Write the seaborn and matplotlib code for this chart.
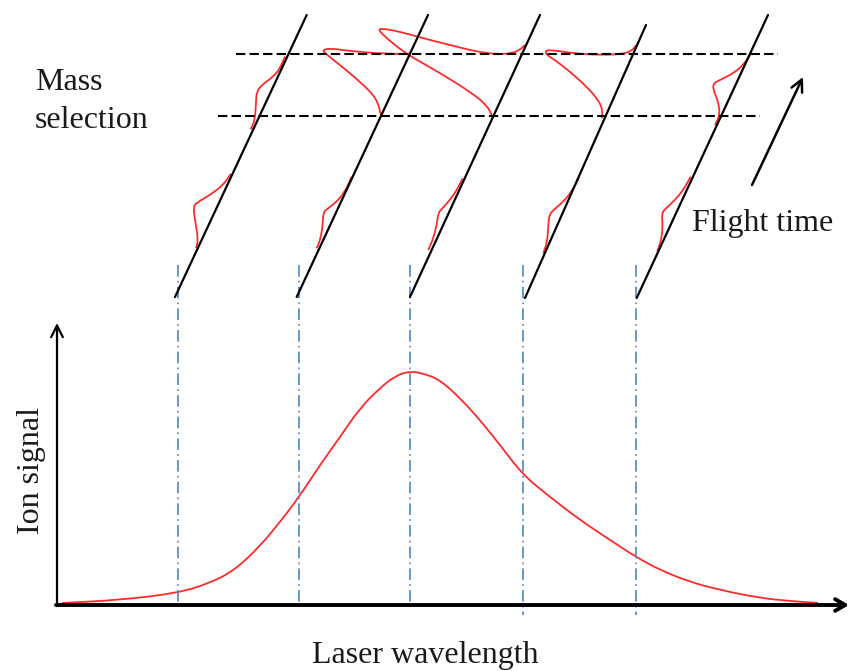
import matplotlib
matplotlib.use("Agg")
import matplotlib.pyplot as plt
from matplotlib.path import Path
from matplotlib.patches import PathPatch
import seaborn as sns

# ---- values (image pixel coordinates, y down) ----
# blue dash-dot markers at the laser wavelengths used
scan_x = [178, 299, 410, 523, 636]
scan_bottom = [605, 605, 605, 615, 615]

# ion signal vs laser wavelength
signal_x = [62, 120, 178, 210, 235, 261, 280, 299, 320, 340, 360, 380, 395, 410,
            425, 440, 460, 480, 500, 523, 550, 580, 610, 636, 660, 690, 720, 760,
            790, 818]
signal_y = [603, 600, 593, 583, 570, 545, 522, 497, 465, 437, 408, 388, 376, 371,
            374, 380, 398, 420, 445, 475, 497, 520, 540, 557, 570, 582, 590, 598,
            601, 603]

# flight-time axes (slanted lines): bottom end and top end
tof_x0 = [175, 296.7, 410, 525, 636.7]
tof_y0 = [297, 297, 297, 298, 298]
tof_x1 = [306.7, 428, 540, 646, 768]
tof_y1 = [15, 15, 15, 25, 15]

# parent ion peak on each trace
parent_x = [
    [196, 198.3, 195, 193.3, 196.7, 210, 223.3, 230.7],
    [316.7, 320.7, 322.7, 323.3, 326.7, 336.7, 345, 351.7],
    [428.3, 433.3, 436.7, 438.3, 441.7, 448.3, 456, 462.7],
    [543.3, 547.3, 548.3, 549.3, 553.3, 563.3, 571.7, 579],
    [657.3, 661.7, 662.7, 661.7, 665, 675, 683.3, 690.7],
]
parent_y = [
    [248.3, 240, 220, 206.7, 202.7, 195, 185, 174],
    [248.3, 238.3, 225, 212.7, 209.3, 201.7, 191.7, 176.7],
    [250, 238.3, 225, 212.7, 209.3, 201.7, 191.7, 178.3],
    [253.3, 241.7, 225, 215, 210, 201.7, 191.7, 177.3],
    [251.7, 238.3, 225, 213.3, 209.3, 200, 190, 176.7],
]

# mass-selected fragment peak on each trace
frag_x = [
    [250.7, 255, 256, 256.7, 261.7, 273.3, 280, 285],
    [380.7, 376.7, 360, 340, 325, 322.7, 330, 350, 376.7, 400, 408.3, 410],
    [491.7, 486.7, 470, 443.3, 420, 403.3, 386.7, 378.3, 381.7, 400, 423.3, 450,
     476.7, 496.7, 513.3, 521.7, 525],
    [601.7, 602.7, 598.3, 586.7, 570, 555, 546.7, 545, 551.7, 573.3, 600, 623.3,
     631.7, 636.7],
    [715, 720, 718.3, 713.3, 713.3, 720, 733.3, 743.3, 750],
]
frag_y = [
    [129.3, 120, 101.7, 91.7, 85, 76.7, 68.3, 56.7],
    [114.3, 98.3, 81.7, 65, 53.3, 50, 48.3, 51, 53.3, 54, 54.3, 52.3],
    [115, 105, 91.7, 75, 61.7, 51.7, 38.3, 30, 28.3, 31.7, 38.3, 45, 51.7, 54.3,
     53.3, 48.3, 45],
    [118.3, 110, 100, 86.7, 71.7, 60, 55, 50.7, 50, 53.3, 55, 54, 50.7, 45],
    [125, 115, 101.7, 90, 83.3, 80, 73.3, 65, 55],
]

# mass selection window
gate_y = [54, 116]
gate_x0 = [236, 218]
gate_x1 = [778, 760]

RED = "#ff2a2a"
BLUE = "#4f86c6"
INK = "#1a1a1a"


def smooth(ax, xs, ys, **kw):
    # quadratic bezier through the midpoints, read points act as control points
    pts = list(zip(xs, ys))
    verts = [pts[0]]
    codes = [Path.MOVETO]
    mids = [((a[0] + b[0]) / 2, (a[1] + b[1]) / 2) for a, b in zip(pts[:-1], pts[1:])]
    verts.append(mids[0])
    codes.append(Path.LINETO)
    for i in range(1, len(pts) - 1):
        verts += [pts[i], mids[i]]
        codes += [Path.CURVE3, Path.CURVE3]
    verts.append(pts[-1])
    codes.append(Path.LINETO)
    ax.add_patch(PathPatch(Path(verts, codes), fill=False, **kw))


sns.set_theme(style="white")
plt.rcParams["font.family"] = ["Liberation Serif", "DejaVu Serif"]

fig = plt.figure(figsize=(8.52, 6.71), dpi=100)
ax = fig.add_axes([0, 0, 1, 1])
ax.set_xlim(0, 852)
ax.set_ylim(671, 0)
ax.axis("off")

# scan markers
for x, yb in zip(scan_x, scan_bottom):
    ax.plot([x, x], [265, yb], color=BLUE, lw=1.2, dashes=(7, 2.5, 1, 2.5))

# ion signal curve
smooth(ax, signal_x, signal_y, edgecolor=RED, lw=1.3)

# axes with arrows
ax.annotate("", xy=(57, 323), xytext=(57, 606),
            arrowprops=dict(arrowstyle="->,head_length=0.7,head_width=0.35",
                            color="black", lw=1.6, shrinkA=0, shrinkB=0))
ax.annotate("", xy=(849, 605), xytext=(56, 605),
            arrowprops=dict(arrowstyle="->,head_length=0.6,head_width=0.35",
                            color="black", lw=2.8, shrinkA=0, shrinkB=0))

# mass selection gate
for y, x0, x1 in zip(gate_y, gate_x0, gate_x1):
    ax.plot([x0, x1], [y, y], color="black", lw=1.5, dashes=(4.5, 2))

# time-of-flight traces
for i in range(len(tof_x0)):
    sns.lineplot(x=[tof_x0[i], tof_x1[i]], y=[tof_y0[i], tof_y1[i]], sort=False,
                 estimator=None, color="black", lw=1.6, ax=ax)
    smooth(ax, parent_x[i], parent_y[i], edgecolor=RED, lw=1.3)
    smooth(ax, frag_x[i], frag_y[i], edgecolor=RED, lw=1.3)

# flight time arrow
ax.annotate("", xy=(803, 77), xytext=(752, 185),
            arrowprops=dict(arrowstyle="->,head_length=0.7,head_width=0.35",
                            color="black", lw=1.8, shrinkA=0, shrinkB=0))

fs = 23
ax.text(35, 82, "Mass", fontsize=fs, ha="left", va="center", color=INK)
ax.text(35, 121, "selection", fontsize=fs, ha="left", va="center", color=INK)
ax.text(692, 223, "Flight time", fontsize=fs, ha="left", va="center", color=INK)
ax.text(425, 655, "Laser wavelength", fontsize=fs, ha="center", va="center",
        color=INK)
ax.text(32, 470, "Ion signal", fontsize=fs, ha="center", va="center",
        rotation=90, color=INK)

fig.savefig("out.png", dpi=100)
